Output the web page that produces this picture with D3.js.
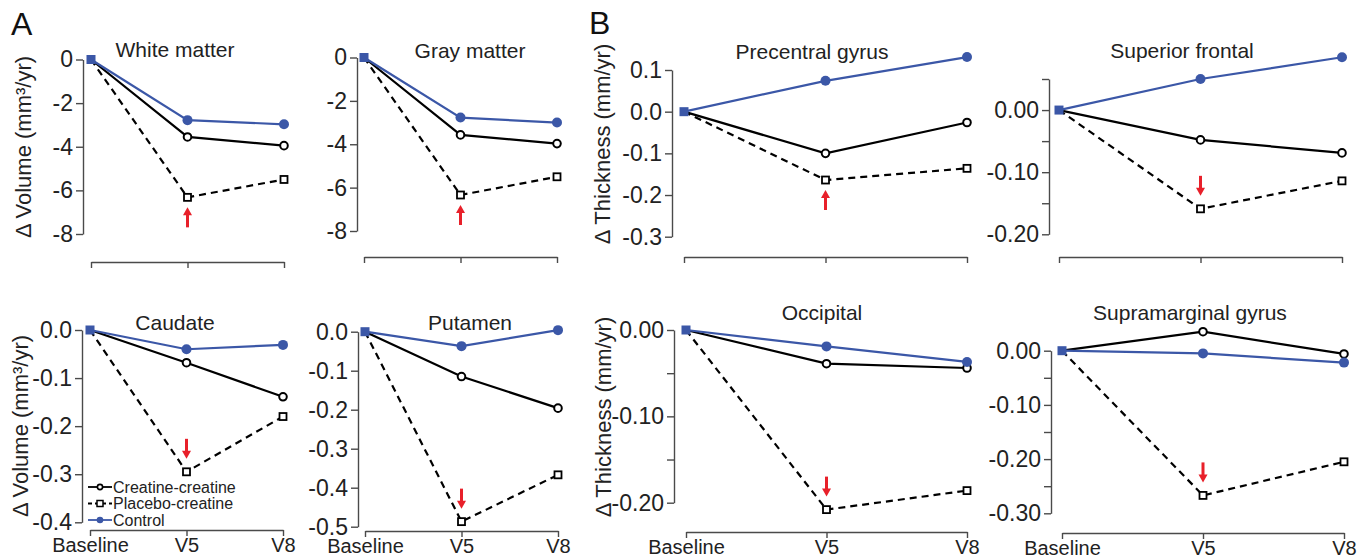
<!DOCTYPE html>
<html>
<head>
<meta charset="utf-8">
<script src="https://cdnjs.cloudflare.com/ajax/libs/d3/7.8.5/d3.min.js"></script>
<style>
body { margin: 0; background: #fff; }
svg { font-family: "Liberation Sans", Arial, sans-serif; }
</style>
</head>
<body>
<div id="chart"></div>
<script>
var visits = ["Baseline", "V5", "V8"];
var groups = ["Creatine-creatine", "Placebo-creatine", "Control"];

// each panel: [creatine-creatine, placebo-creatine, control]
var whiteMatter = [[0, -3.55, -3.95], [0, -6.32, -5.5], [0, -2.78, -2.97]];
var grayMatter = [[0, -3.57, -3.97], [0, -6.34, -5.5], [0, -2.77, -3.0]];
var precentral = [[0, -0.1, -0.026], [0, -0.164, -0.136], [0, 0.074, 0.131]];
var superiorFrontal = [[0, -0.048, -0.069], [0, -0.159, -0.114], [0, 0.05, 0.085]];
var caudate = [[0, -0.068, -0.139], [0, -0.295, -0.18], [0, -0.04, -0.031]];
var putamen = [[0, -0.115, -0.196], [0, -0.487, -0.367], [0, -0.037, 0.004]];
var occipital = [[0, -0.039, -0.044], [0, -0.208, -0.186], [0, -0.019, -0.037]];
var supramarginal = [[0, 0.035, -0.006], [0, -0.267, -0.205], [0, -0.005, -0.022]];

var volumeTicks = [0, -2, -4, -6, -8];
var caudateTicks = [0, -0.1, -0.2, -0.3, -0.4];
var putamenTicks = [0, -0.1, -0.2, -0.3, -0.4, -0.5];
var precentralTicks = [0.1, 0, -0.1, -0.2, -0.3];
var frontalTicks = [0.05, 0, -0.05, -0.1, -0.15, -0.2];
var occipitalTicks = [0, -0.05, -0.1, -0.15, -0.2];
var supraTicks = [0, -0.05, -0.1, -0.15, -0.2, -0.25, -0.3];
var hundredthLabels = [0, -0.1, -0.2, -0.3];

var panels = [
    { title: "White matter", values: whiteMatter, ticks: volumeTicks, dec: 0,
      ax: 83, x0: 91, x1: 284, yTop: 59.5, yBot: 234, xAxisY: 262, tx: 175, ty: 49, up: true },
    { title: "Gray matter", values: grayMatter, ticks: volumeTicks, dec: 0,
      ax: 357, x0: 364, x1: 557, yTop: 57.5, yBot: 231, xAxisY: 257, tx: 470, ty: 50, up: true },
    { title: "Precentral gyrus", values: precentral, ticks: precentralTicks, dec: 1,
      ax: 672, x0: 684, x1: 967, yTop: 70, yBot: 236.7, xAxisY: 257, tx: 812, ty: 51, up: true },
    { title: "Superior frontal", values: superiorFrontal, ticks: frontalTicks, dec: 2, labels: hundredthLabels,
      ax: 1049, x0: 1059, x1: 1342, yTop: 79, yBot: 234.3, xAxisY: 257, tx: 1182, ty: 50, up: false },
    { title: "Caudate", values: caudate, ticks: caudateTicks, dec: 1,
      ax: 82, x0: 90, x1: 283, yTop: 330, yBot: 522.3, xAxisY: 530, tx: 175, ty: 322, up: false, xLabels: true, legend: true },
    { title: "Putamen", values: putamen, ticks: putamenTicks, dec: 1,
      ax: 358, x0: 365, x1: 558, yTop: 331.7, yBot: 526.7, xAxisY: 531, tx: 470, ty: 322, up: false, xLabels: true },
    { title: "Occipital", values: occipital, ticks: occipitalTicks, dec: 2, labels: hundredthLabels,
      ax: 674, x0: 686, x1: 967, yTop: 330, yBot: 502.7, xAxisY: 532, tx: 822, ty: 312, up: false, xLabels: true },
    { title: "Supramarginal gyrus", values: supramarginal, ticks: supraTicks, dec: 2, labels: hundredthLabels,
      ax: 1051, x0: 1062, x1: 1344, yTop: 350.7, yBot: 513.3, xAxisY: 533, tx: 1190, ty: 312, up: false, xLabels: true }
];

var blue = "#3b57a7";
var axisColor = "#4a4a4a";
var red = "#e8202a";

var svg = d3.select("#chart").append("svg")
    .attr("width", 1366)
    .attr("height", 559);

function fmt(v, dec) {
    var s = Math.abs(v).toFixed(dec);
    return (v < -1e-9 ? "-" : "") + s;
}

function drawPanel(p) {
    var g = svg.append("g");
    var x = d3.scalePoint().domain(visits).range([p.x0, p.x1]);
    var y = d3.scaleLinear().domain(d3.extent(p.ticks)).range([p.yBot, p.yTop]);

    var yAxis = d3.axisLeft(y)
        .tickValues(p.ticks)
        .tickSizeOuter(0)
        .tickSizeInner(7)
        .tickPadding(3)
        .tickFormat(function (d) {
            if (p.labels && !p.labels.some(function (l) { return Math.abs(l - d) < 1e-9; })) return "";
            return fmt(d, p.dec);
        });
    var ya = g.append("g")
        .attr("transform", "translate(" + p.ax + ",0)")
        .call(yAxis);

    var xAxis = d3.axisBottom(x)
        .tickSizeOuter(0)
        .tickSizeInner(6)
        .tickPadding(2)
        .tickFormat(function (d) { return p.xLabels ? d : ""; });
    var xa = g.append("g")
        .attr("transform", "translate(0," + p.xAxisY + ")")
        .call(xAxis);

    [ya, xa].forEach(function (a) {
        a.select(".domain").attr("stroke", axisColor).attr("stroke-width", 1.4);
        a.selectAll(".tick line").attr("stroke", axisColor).attr("stroke-width", 1.4);
        a.selectAll(".tick text")
            .attr("fill", "#222")
            .style("font-size", "23px")
            .style("font-family", '"Liberation Sans", Arial, sans-serif');
    });
    xa.selectAll(".tick text").style("font-size", "20px");

    g.append("text")
        .attr("x", p.tx)
        .attr("y", p.ty)
        .attr("dy", "0.36em")
        .attr("text-anchor", "middle")
        .attr("fill", "#222")
        .style("font-size", "21px")
        .text(p.title);

    var line = d3.line()
        .x(function (d, i) { return x(visits[i]); })
        .y(function (d) { return y(d); });

    // placebo dashed
    g.append("path")
        .attr("d", line(p.values[1]))
        .attr("fill", "none")
        .attr("stroke", "#000")
        .attr("stroke-width", 2.2)
        .attr("stroke-dasharray", "7,5");
    g.append("path")
        .attr("d", line(p.values[0]))
        .attr("fill", "none")
        .attr("stroke", "#000")
        .attr("stroke-width", 2.2);
    g.append("path")
        .attr("d", line(p.values[2]))
        .attr("fill", "none")
        .attr("stroke", blue)
        .attr("stroke-width", 2.2);

    var later = [1, 2];
    g.selectAll(".pl")
        .data(later)
        .enter().append("rect")
        .attr("x", function (i) { return x(visits[i]) - 3.5; })
        .attr("y", function (i) { return y(p.values[1][i]) - 3.5; })
        .attr("width", 7)
        .attr("height", 7)
        .attr("fill", "#fff")
        .attr("stroke", "#000")
        .attr("stroke-width", 1.8);
    g.selectAll(".cr")
        .data(later)
        .enter().append("circle")
        .attr("cx", function (i) { return x(visits[i]); })
        .attr("cy", function (i) { return y(p.values[0][i]); })
        .attr("r", 3.8)
        .attr("fill", "#fff")
        .attr("stroke", "#000")
        .attr("stroke-width", 2);
    g.selectAll(".co")
        .data(later)
        .enter().append("circle")
        .attr("cx", function (i) { return x(visits[i]); })
        .attr("cy", function (i) { return y(p.values[2][i]); })
        .attr("r", 5)
        .attr("fill", blue);

    // baseline marker
    g.append("rect")
        .attr("x", x(visits[0]) - 4.5)
        .attr("y", y(p.values[2][0]) - 4.5)
        .attr("width", 9)
        .attr("height", 9)
        .attr("fill", blue);

    // red arrow at V5 of placebo group
    var ax = x(visits[1]);
    var py = y(p.values[1][1]);
    var tip = p.up ? py + 10 : py - 13;
    var tail = p.up ? tip + 20 : tip - 20;
    var s = p.up ? 1 : -1;
    g.append("line")
        .attr("x1", ax).attr("x2", ax)
        .attr("y1", tail).attr("y2", tip + s * 6)
        .attr("stroke", red)
        .attr("stroke-width", 3);
    g.append("path")
        .attr("d", "M" + ax + "," + tip + "L" + (ax - 4.5) + "," + (tip + s * 8) + "L" + (ax + 4.5) + "," + (tip + s * 8) + "Z")
        .attr("fill", red);

    if (p.legend) drawLegend(g);
}

function drawLegend(g) {
    var rows = [487, 503.5, 520];
    groups.forEach(function (name, i) {
        var cy = rows[i];
        var col = i === 2 ? blue : "#000";
        g.append("line")
            .attr("x1", 88).attr("x2", 112)
            .attr("y1", cy).attr("y2", cy)
            .attr("stroke", col)
            .attr("stroke-width", 1.8)
            .attr("stroke-dasharray", i === 1 ? "4,3" : null);
        if (i === 0) {
            g.append("circle").attr("cx", 100).attr("cy", cy).attr("r", 2.6)
                .attr("fill", "#fff").attr("stroke", "#000").attr("stroke-width", 1.6);
        } else if (i === 1) {
            g.append("rect").attr("x", 97).attr("y", cy - 3).attr("width", 6).attr("height", 6)
                .attr("fill", "#fff").attr("stroke", "#000").attr("stroke-width", 1.5);
        } else {
            g.append("circle").attr("cx", 100).attr("cy", cy).attr("r", 3.3).attr("fill", blue);
        }
        g.append("text")
            .attr("x", 113)
            .attr("y", cy)
            .attr("dy", "0.36em")
            .attr("fill", "#222")
            .style("font-size", "16px")
            .text(name);
    });
}

panels.forEach(drawPanel);

// panel letters
svg.append("text").attr("x", 11).attr("y", 35).style("font-size", "32px").attr("fill", "#111").text("A");
svg.append("text").attr("x", 589).attr("y", 34).style("font-size", "32px").attr("fill", "#111").text("B");

// y axis titles
var yTitles = [
    { text: "Δ Volume (mm³/yr)", x: 23, y: 147 },
    { text: "Δ Volume (mm³/yr)", x: 20, y: 426 },
    { text: "Δ Thickness (mm/yr)", x: 602, y: 144 },
    { text: "Δ Thickness (mm/yr)", x: 603, y: 417 }
];
svg.selectAll(".ytitle")
    .data(yTitles)
    .enter().append("text")
    .attr("transform", function (d) { return "translate(" + d.x + "," + d.y + ") rotate(-90)"; })
    .attr("text-anchor", "middle")
    .attr("dy", "0.36em")
    .attr("fill", "#222")
    .style("font-size", "22px")
    .text(function (d) { return d.text; });
</script>
</body>
</html>
